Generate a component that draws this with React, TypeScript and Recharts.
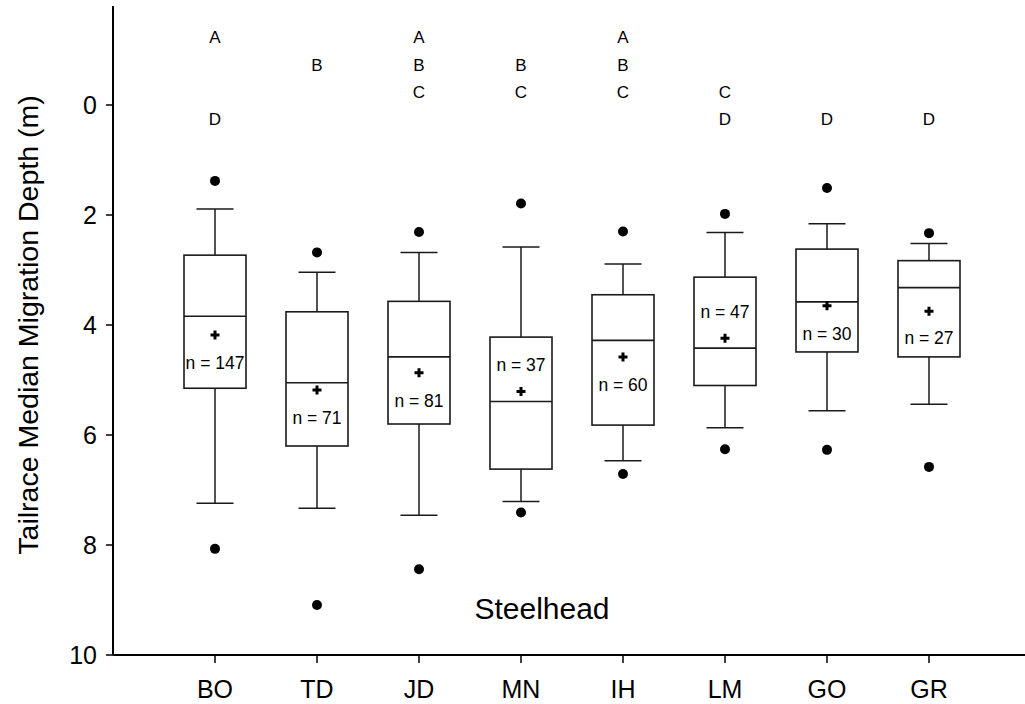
import React from "react";
import { ComposedChart, Bar, Scatter, XAxis, YAxis, Customized } from "recharts";

// ---- data (depth in m) ----
const categories = ["BO", "TD", "JD", "MN", "IH", "LM", "GO", "GR"];
const whiskerTop = [1.89, 3.04, 2.68, 2.58, 2.89, 2.32, 2.16, 2.52];
const boxTop = [2.73, 3.76, 3.57, 4.22, 3.45, 3.13, 2.62, 2.83];
const medianDepth = [3.84, 5.05, 4.58, 5.39, 4.28, 4.42, 3.58, 3.32];
const boxBottom = [5.15, 6.2, 5.8, 6.62, 5.82, 5.1, 4.49, 4.58];
const whiskerBottom = [7.24, 7.33, 7.46, 7.21, 6.47, 5.87, 5.56, 5.44];
const meanDepth = [4.18, 5.18, 4.87, 5.21, 4.58, 4.24, 3.65, 3.75];
const outlierTop = [1.38, 2.68, 2.31, 1.79, 2.3, 1.98, 1.51, 2.33];
const outlierBottom = [8.07, 9.09, 8.44, 7.41, 6.71, 6.26, 6.27, 6.58];
const sampleSize = [147, 71, 81, 37, 60, 47, 30, 27];
const nLabelDepth = [4.69, 5.69, 5.38, 4.73, 5.09, 3.76, 4.16, 4.24];
const groupLetters = ["AD", "B", "ABC", "BC", "ABC", "CD", "D", "D"];
const letterRows = ["A", "B", "C", "D"];
const letterRowDepth = [-1.22, -0.71, -0.22, 0.27];
const yTicks = [0, 2, 4, 6, 8, 10];

const FONT = "'Liberation Sans', Arial, Helvetica, sans-serif";
const INK = "#1a1a1a";

const data = categories.map((site, i) => {
  const row: any = {
    site,
    whisker: [whiskerTop[i], whiskerBottom[i]],
    box: [boxTop[i], boxBottom[i]],
    median: medianDepth[i],
    mean: meanDepth[i],
    outHi: outlierTop[i],
    outLo: outlierBottom[i],
    nPos: nLabelDepth[i],
    n: sampleSize[i],
    letters: groupLetters[i],
  };
  letterRows.forEach((l, k) => {
    row["row" + l] = letterRowDepth[k];
  });
  return row;
});

const WhiskerShape = (p: any) => {
  const { x, y, width, height } = p;
  const cx = x + width / 2;
  const top = Math.min(y, y + height);
  const bot = Math.max(y, y + height);
  return (
    <g stroke={INK} strokeWidth={1.5}>
      <line x1={cx} x2={cx} y1={top} y2={bot} />
      <line x1={cx - 18.5} x2={cx + 18.5} y1={top} y2={top} />
      <line x1={cx - 18.5} x2={cx + 18.5} y1={bot} y2={bot} />
    </g>
  );
};

const BoxShape = (p: any) => {
  const { x, y, width, height } = p;
  const top = Math.min(y, y + height);
  const h = Math.abs(height);
  return <rect x={x} y={top} width={width} height={h} fill="#fff" stroke={INK} strokeWidth={1.6} />;
};

const MedianShape = (p: any) => (
  <line x1={p.cx - 31} x2={p.cx + 31} y1={p.cy} y2={p.cy} stroke={INK} strokeWidth={1.6} />
);

const MeanShape = (p: any) => (
  <path
    d={`M${p.cx - 4.5},${p.cy} H${p.cx + 4.5} M${p.cx},${p.cy - 4.5} V${p.cy + 4.5}`}
    stroke="#000"
    strokeWidth={3}
  />
);

const DotShape = (p: any) => <circle cx={p.cx} cy={p.cy} r={5} fill="#000" />;

const NShape = (p: any) => (
  <text
    x={p.cx}
    y={p.cy}
    textAnchor="middle"
    dominantBaseline="central"
    fontFamily={FONT}
    fontSize={17.5}
    fill="#000"
  >
    {`n = ${p.payload.n}`}
  </text>
);

const letterShape = (letter: string) => (p: any) =>
  p.payload.letters.includes(letter) ? (
    <text
      x={p.cx}
      y={p.cy}
      textAnchor="middle"
      dominantBaseline="central"
      fontFamily={FONT}
      fontSize={17}
      fill="#000"
    >
      {letter}
    </text>
  ) : (
    <g />
  );

const Annotations = () => (
  <g>
    <text
      transform="translate(28,325) rotate(-90)"
      textAnchor="middle"
      dominantBaseline="central"
      fontFamily={FONT}
      fontSize={28.5}
      fill="#000"
    >
      Tailrace Median Migration Depth (m)
    </text>
    <text x={542} y={619} textAnchor="middle" fontFamily={FONT} fontSize={30} fill="#000">
      Steelhead
    </text>
  </g>
);

export default function App() {
  return (
    <div
      style={{
        position: "absolute",
        left: 0,
        top: 0,
        width: 1025,
        height: 704,
        overflow: "hidden",
        background: "#fff",
      }}
    >
      <ComposedChart
        width={1040}
        height={704}
        data={data}
        margin={{ top: 6, right: 9, left: 0, bottom: 0 }}
        barGap={-62}
      >
        <XAxis
          xAxisId="top"
          orientation="top"
          dataKey="site"
          type="category"
          height={0}
          tick={false}
          tickLine={false}
          axisLine={{ stroke: "#000", strokeWidth: 2 }}
          padding={{ left: 51, right: 51 }}
        />
        <XAxis
          dataKey="site"
          type="category"
          height={49}
          padding={{ left: 51, right: 51 }}
          interval={0}
          tickSize={8}
          tickMargin={17}
          axisLine={{ stroke: "#000", strokeWidth: 2 }}
          tickLine={{ stroke: "#000", strokeWidth: 1.5 }}
          tick={{ fill: "#000", fontSize: 25, fontFamily: FONT }}
        />
        <YAxis
          type="number"
          domain={[-1.8, 10]}
          reversed
          allowDataOverflow
          ticks={yTicks}
          interval={0}
          width={113}
          tickSize={7}
          tickMargin={9}
          axisLine={{ stroke: "#000", strokeWidth: 2 }}
          tickLine={{ stroke: "#000", strokeWidth: 1.5 }}
          tick={{ fill: "#000", fontSize: 25, fontFamily: FONT }}
        />
        <Bar dataKey="whisker" barSize={62} shape={WhiskerShape} isAnimationActive={false} />
        <Bar dataKey="box" barSize={62} shape={BoxShape} isAnimationActive={false} />
        <Scatter dataKey="median" shape={MedianShape} isAnimationActive={false} />
        <Scatter dataKey="mean" shape={MeanShape} isAnimationActive={false} />
        <Scatter dataKey="outHi" shape={DotShape} isAnimationActive={false} />
        <Scatter dataKey="outLo" shape={DotShape} isAnimationActive={false} />
        <Scatter dataKey="nPos" shape={NShape} isAnimationActive={false} />
        {letterRows.map((l) => (
          <Scatter key={l} dataKey={"row" + l} shape={letterShape(l)} isAnimationActive={false} />
        ))}
        <Customized component={Annotations} />
      </ComposedChart>
    </div>
  );
}
